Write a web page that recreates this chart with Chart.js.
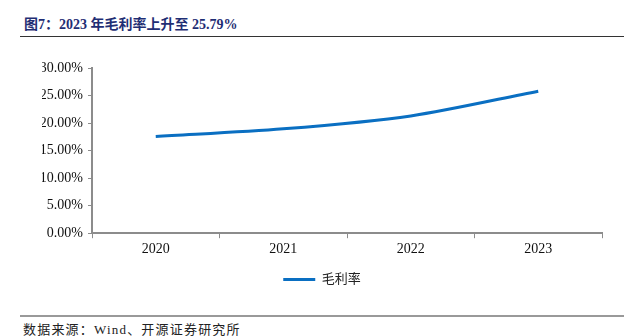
<!DOCTYPE html>
<html>
<head>
<meta charset="utf-8">
<script src="https://cdn.jsdelivr.net/npm/chart.js@4.4.0/dist/chart.umd.min.js"></script>
<style>
  html, body { margin: 0; padding: 0; background: #fff; }
  body { width: 644px; height: 336px; position: relative; overflow: hidden; }
  #title {
    position: absolute; left: 24px; top: 13px;
    font: bold 14px "Liberation Serif", "Noto Sans CJK SC", serif;
    color: #1f2e74; white-space: nowrap;
  }
  #rule-top { position: absolute; left: 20px; top: 36px; width: 604px; height: 1px; background: #333; }
  #rule-bottom { position: absolute; left: 20px; top: 315px; width: 604px; height: 2px; background: #999; }
  #source {
    position: absolute; left: 23px; top: 319px;
    font: 13px "Liberation Serif", "Noto Sans CJK SC", serif;
    letter-spacing: 1.2px;
    color: #222; white-space: nowrap;
  }
  #wrap { position: absolute; left: 42px; top: 40px; width: 602px; height: 258px; }
</style>
</head>
<body>
<div id="title">图7：2023 年毛利率上升至 25.79%</div>
<div id="rule-top"></div>
<div id="wrap"><canvas id="chart1"></canvas></div>
<div id="rule-bottom"></div>
<div id="source">数据来源：Wind、开源证券研究所</div>
<script>
const years = ["2020", "2021", "2022", "2023"];
const grossMargin = [17.55, 18.95, 21.3, 25.79];
const seriesName = "毛利率";

const serif = "'Liberation Serif', 'Noto Sans CJK SC', serif";
const axisGray = "#8c8c8c";

const chart1 = document.getElementById("chart1");

const lineChart = new Chart(chart1, {
    type: "line",
    data: {
        labels: years,
        datasets: [{
            label: seriesName,
            data: grossMargin,
            borderColor: "#0a6fc2",
            backgroundColor: "#0a6fc2",
            borderWidth: 3,
            pointRadius: 0,
            tension: 0.3,
            fill: false
        }]
    },
    options: {
        responsive: true,
        maintainAspectRatio: false,
        animation: false,
        layout: {
            padding: { left: 0, right: 42, top: 28, bottom: 2 }
        },
        plugins: {
            tooltip: { enabled: false },
            legend: {
                position: "bottom",
                labels: {
                    usePointStyle: true,
                    pointStyle: "line",
                    pointStyleWidth: 32,
                    color: "#222",
                    padding: 12,
                    font: { family: serif, size: 13 }
                }
            }
        },
        scales: {
            x: {
                offset: true,
                grid: {
                    offset: true,
                    drawOnChartArea: false,
                    drawTicks: true,
                    tickLength: 5,
                    color: axisGray
                },
                border: { color: axisGray, width: 2 },
                ticks: {
                    color: "#111",
                    padding: 3,
                    font: { family: serif, size: 14 }
                }
            },
            y: {
                min: 0,
                max: 30,
                afterFit: (scale) => { scale.width = 50; },
                grid: {
                    drawOnChartArea: false,
                    drawTicks: true,
                    tickLength: 4,
                    color: axisGray
                },
                border: { color: axisGray, width: 2 },
                ticks: {
                    stepSize: 5,
                    color: "#111",
                    padding: 5,
                    font: { family: serif, size: 14 },
                    callback: (v) => v.toFixed(2) + "%"
                }
            }
        }
    }
});
</script>
</body>
</html>
